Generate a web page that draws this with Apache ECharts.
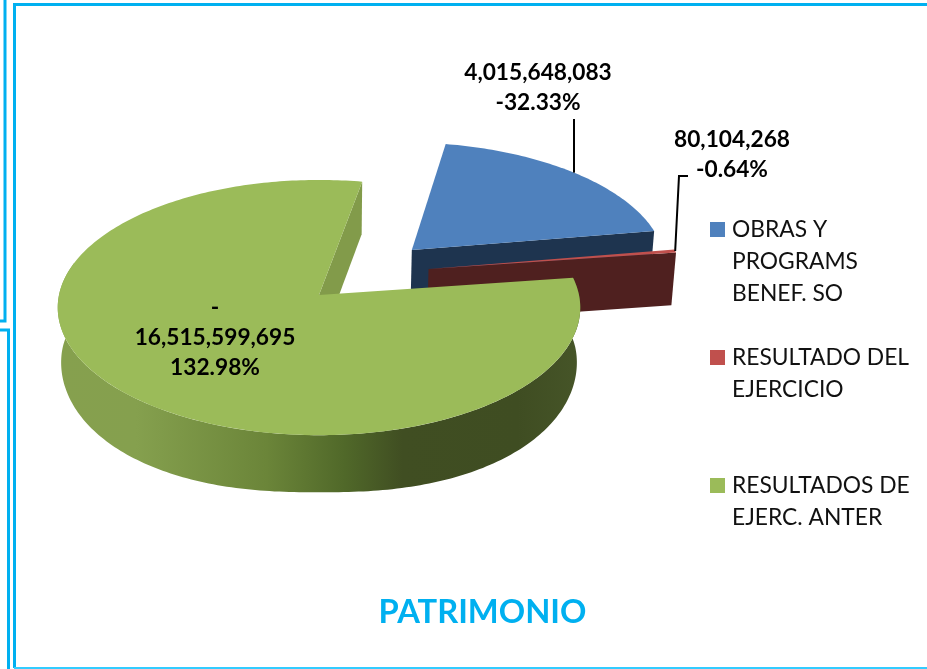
<!DOCTYPE html>
<html>
<head>
<meta charset="utf-8">
<title>PATRIMONIO</title>
<style>
  html, body { margin: 0; padding: 0; background: #fff; }
  #chart { width: 927px; height: 669px; }
</style>
<script src="https://cdn.jsdelivr.net/npm/echarts@6/dist/echarts.min.js"></script>
</head>
<body>
<div id="chart"></div>
<script>
const categories = ['OBRAS Y\nPROGRAMS\nBENEF. SO', 'RESULTADO DEL\nEJERCICIO', 'RESULTADOS DE\nEJERC. ANTER']
const values = [4015648083, 80104268, 16515599695]
const valuePrefix = ['', '', '-\n']
const percentLabels = ['-32.33%', '-0.64%', '132.98%']
const chartTitle = 'PATRIMONIO'

const FONT = 'Lato, "Open Sans", sans-serif'
const FRAME_BLUE = '#00B0F0'

// pie geometry: unit disc projected with a little perspective
const CX = 319
const CY = 295
const RX = 260
const RY = 126.4
const PERSP = 0.0985
const START_DEG = 10.5

// look of each slice, explode is in disc units
const sliceStyle = [
  { top: '#4F81BD', face: '#1E344F', explode: [0.37, 0.37], bulge: 0, label: [538, 88] },
  { top: '#C0504D', face: '#4F201F', explode: [0.43, 0.21], bulge: 0, label: [732, 155] },
  { top: '#9BBB59', face: '#829B4A', explode: [0, 0], bulge: 7, label: [215, 338] },
]

const total = values.reduce((a, b) => a + b, 0)

function sliceAngles(index) {
  let from = START_DEG
  for (let i = 0; i < index; i++) from += values[i] / total * 360
  return [from, from + values[index] / total * 360]
}

// u, v on the disc -> screen. bottom = the lower edge of the pie wall
function project(u, v, bottom, bulge = 0) {
  const s = 1 / (1 + PERSP * v)
  let x = CX + RX * u * s
  let y = CY - RY * v * s
  if (bottom) {
    x = CX + (x - CX) * 0.987
    y += 54 - 3 * v + bulge * (Math.sqrt((2 * u * v) ** 2 + 0.05) - 0.22)
  }
  return [x, y]
}

function rimPoint(deg, st, bottom) {
  const a = deg * Math.PI / 180
  return project(Math.sin(a) + st.explode[0], Math.cos(a) + st.explode[1], bottom, st.bulge)
}

function rimPoints(from, to, st, bottom) {
  const pts = []
  const n = Math.max(2, Math.ceil(Math.abs(to - from)))
  for (let i = 0; i <= n; i++) pts.push(rimPoint(from + (to - from) * i / n, st, bottom))
  return pts
}

function formatValue(v) {
  return v.toLocaleString('en-US')
}

function labelElement(index) {
  const st = sliceStyle[index]
  return {
    type: 'text',
    z2: 50,
    style: {
      x: st.label[0],
      y: st.label[1],
      text: valuePrefix[index] + formatValue(values[index]) + '\n' + percentLabels[index],
      fill: '#000',
      font: 'bold 22.7px ' + FONT,
      lineHeight: 30,
      align: 'center',
      verticalAlign: 'middle',
    },
  }
}

function leaderLine(points) {
  return {
    type: 'polyline',
    z2: 40,
    shape: { points },
    style: { stroke: '#000', lineWidth: 2, fill: 'none' },
  }
}

function renderSlice(params) {
  const i = params.seriesIndex
  const st = sliceStyle[i]
  const [from, to] = sliceAngles(i)
  const apexTop = project(st.explode[0], st.explode[1], false)
  const apexBottom = project(st.explode[0], st.explode[1], true)
  const children = []

  if (i === 2) {
    // green slice: outer wall first, it goes behind the cut face
    const wallTo = Math.min(to, 285)
    const wall = rimPoints(from, wallTo, st, false)
      .concat(rimPoints(wallTo, from, st, true))
    children.push({
      type: 'polygon',
      shape: { points: wall },
      style: {
        fill: new echarts.graphic.LinearGradient(0, 0, 1, 0, [
          { offset: 0, color: '#86A04E' },
          { offset: 0.15, color: '#85A04E' },
          { offset: 0.4, color: '#6B8539' },
          { offset: 0.55, color: '#506829' },
          { offset: 0.66, color: '#404E22' },
          { offset: 0.88, color: '#3F4D22' },
          { offset: 1, color: '#465528' },
        ]),
      },
    })
  }

  // cut face: green's beside the gap, the exploded slices' at the front
  children.push({
    type: 'polygon',
    shape: { points: [apexTop, rimPoint(to, st, false), rimPoint(to, st, true), apexBottom] },
    style: { fill: st.face },
  })

  children.push({
    type: 'polygon',
    z2: 10,
    shape: { points: [apexTop].concat(rimPoints(from, to, st, false)) },
    style: { fill: st.top },
  })

  const anchor = rimPoint((from + to) / 2, st, false)
  if (i === 0) children.push(leaderLine([anchor, [anchor[0], 119]]))
  if (i === 1) children.push(leaderLine([anchor, [679, 176], [688, 176]]))
  children.push(labelElement(i))

  return { type: 'group', children }
}

// square sits on the first text line, the empty points only stretch the icon box
function legendIcon(height) {
  return 'path://M0 8H15V23H0Z M0 0L0 0 M17 0L17 0 M0 ' + height + 'L0 ' + height
}

function legendAt(index, top, height) {
  return {
    data: [categories[index]],
    orient: 'vertical',
    left: 710,
    top,
    padding: 0,
    selectedMode: false,
    icon: legendIcon(height),
    itemWidth: 17,
    itemHeight: height,
    textStyle: { fontFamily: FONT, fontSize: 22.8, lineHeight: 32, color: '#111' },
  }
}

function frameLine(points, color, width) {
  return {
    type: 'polyline',
    silent: true,
    shape: { points },
    style: { stroke: color, lineWidth: width, fill: 'none' },
  }
}

const chart = echarts.init(document.getElementById('chart'))
chart.setOption({
  animation: false,
  backgroundColor: '#fff',
  title: {
    text: chartTitle,
    left: 477.5,
    top: 591,
    textAlign: 'center',
    textStyle: { fontFamily: FONT, fontSize: 32.7, fontWeight: 'bold', color: FRAME_BLUE },
  },
  legend: [
    legendAt(0, 214, 96),
    legendAt(1, 342, 64),
    legendAt(2, 470, 64),
  ],
  graphic: [
    frameLine([[0, 321], [5, 321], [5, 0]], FRAME_BLUE, 3),
    frameLine([[0, 330], [8.5, 330], [8.5, 669]], FRAME_BLUE, 3),
    frameLine([[927, 4.5], [14.5, 4.5], [14.5, 668]], FRAME_BLUE, 3),
    frameLine([[14, 668], [927, 668]], '#33CCFF', 2),
  ],
  series: values.map((v, i) => ({
    type: 'custom',
    name: categories[i],
    coordinateSystem: 'none',
    silent: true,
    itemStyle: { color: sliceStyle[i].top, borderWidth: 0 },
    renderItem: renderSlice,
    data: [[v]],
  })),
})
</script>
</body>
</html>
